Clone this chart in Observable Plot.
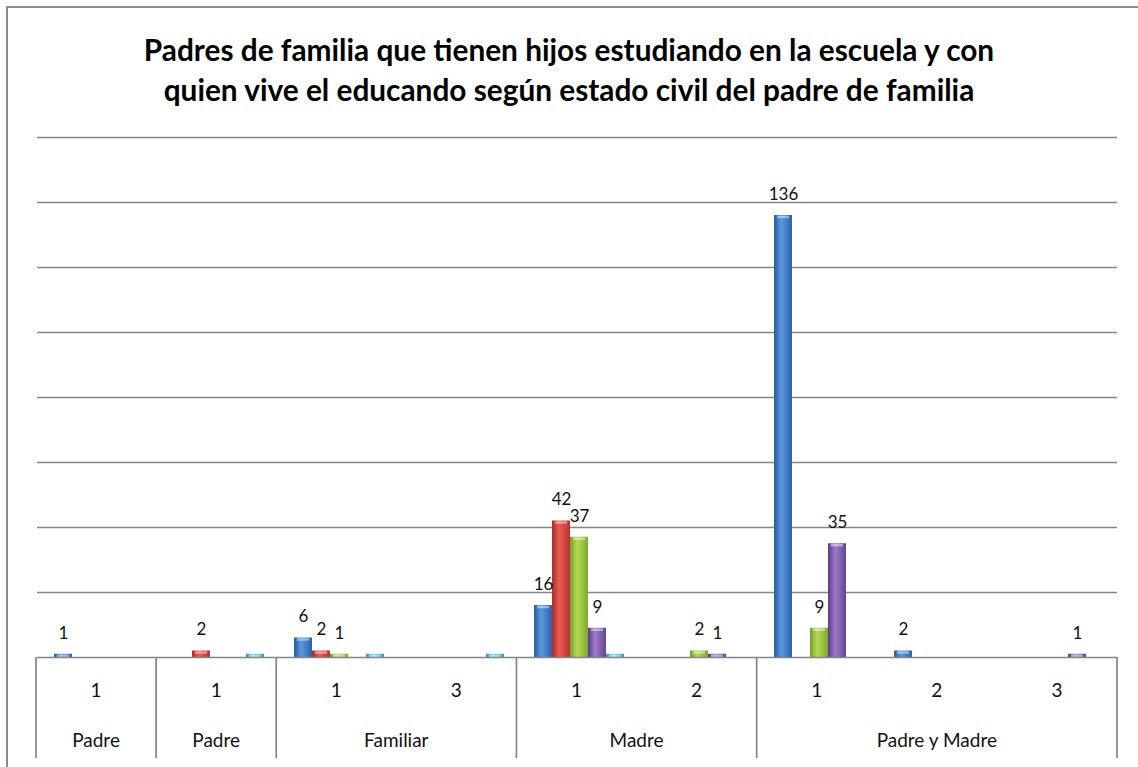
<!DOCTYPE html>
<html><head><meta charset="utf-8">
<script src="https://cdn.jsdelivr.net/npm/d3@7"></script>
<script src="https://cdn.jsdelivr.net/npm/@observablehq/plot@0.6"></script>
<style>
body{margin:0;background:#fff;}
#wrap{position:relative;width:1138px;height:767px;overflow:hidden;font-family:Lato,"Open Sans",sans-serif;}
#frame{position:absolute;left:6px;top:6px;width:1200px;height:800px;border-left:2px solid #8c8c8c;border-top:2px solid #8c8c8c;}
#title{position:absolute;left:0;width:1138px;top:30px;text-align:center;font-weight:bold;font-size:29.8px;line-height:40px;color:#000;z-index:2;}
#chart{position:absolute;left:0;top:0;}
</style></head><body>
<div id="wrap"><div id="frame"></div>
<div id="title">Padres de familia que tienen hijos estudiando en la escuela y con<br>quien vive el educando según estado civil del padre de familia</div>
<div id="chart"></div></div>
<script>
// Multi-level category axis
const groupLabels = ["Padre","Padre","Familiar","Familiar","Madre","Madre","Padre y Madre","Padre y Madre","Padre y Madre"];
const subLabels = ["1","1","1","3","1","2","1","2","3"];
const groupIds = [0,1,2,2,3,3,4,4,4];
// Series (blue, red, green, purple, cyan)
const seriesNames = ["S1","S2","S3","S4","S5"];
const s1Blue   = [1,0,6,0,16,0,136,2,0];
const s2Red    = [0,2,2,0,42,0,0,0,0];
const s3Green  = [0,0,1,0,37,2,9,0,0];
const s4Purple = [0,0,0,0,9,1,35,0,1];
const s5Cyan   = [0,1,1,1,1,0,0,0,0];
const seriesValues = [s1Blue, s2Red, s3Green, s4Purple, s5Cyan];
const labeledSeries = ["S1","S2","S3","S4"];
const gridTicks = [20,40,60,80,100,120,140,160];

const cats = subLabels.map((_, i) => String(i));
const rows = [];
seriesValues.forEach((vals, s) => vals.forEach((v, i) => {
  if (v > 0) rows.push({cat: cats[i], series: seriesNames[s], value: v});
}));

const grads = [
  ["#2a5aa0", "#5a98de", "#2c62ab"],
  ["#a52e2a", "#ec5a52", "#b6322d"],
  ["#73a02a", "#b7da58", "#7eaa2e"],
  ["#5a3c86", "#9e7bcb", "#634393"],
  ["#2a98b4", "#74d6ec", "#30a2be"]
];

const chart = Plot.plot({
  width: 1138, height: 767,
  marginTop: 137, marginBottom: 110, marginLeft: 36, marginRight: 21,
  fx: {domain: cats, padding: 0, axis: null},
  x: {domain: seriesNames, paddingInner: 0, paddingOuter: 0.66, align: 0.56, axis: null},
  y: {domain: [0, 160], axis: null},
  color: {domain: seriesNames, range: seriesNames.map((s, i) => `url(#grad${i})`)},
  style: {fontFamily: "Lato, 'Open Sans', sans-serif", background: "transparent"},
  marks: [
    Plot.ruleY(gridTicks, {stroke: "#858585", strokeWidth: 1.7}),
    Plot.barY(rows, {fx: "cat", x: "series", y: "value", fill: "series"}),
    Plot.tickY(rows, {fx: "cat", x: "series", y: "value", stroke: "rgba(255,255,255,0.45)", strokeWidth: 2.5, dy: 1.5, insetLeft: 3, insetRight: 3}),
    Plot.text(rows.filter(d => labeledSeries.includes(d.series)), {fx: "cat", x: "series", y: "value", text: d => String(d.value), dy: -21, fontSize: 17, fill: "#111"}),
    Plot.ruleY([0], {stroke: "#858585", strokeWidth: 1.7})
  ]
});
document.getElementById("chart").appendChild(chart);

// gradients
const svg = d3.select(chart);
const defs = svg.insert("defs", ":first-child");
grads.forEach((g, i) => {
  const lg = defs.append("linearGradient").attr("id", `grad${i}`).attr("x1", "0").attr("x2", "1").attr("y1", "0").attr("y2", "0");
  lg.append("stop").attr("offset", "0%").attr("stop-color", g[0]);
  lg.append("stop").attr("offset", "40%").attr("stop-color", g[1]);
  lg.append("stop").attr("offset", "100%").attr("stop-color", g[2]);
});

// multi-level axis table from the fx scale
const fx = chart.scale("fx");
const yS = chart.scale("y");
const n = cats.length;
const r0 = fx.range[0], r1 = fx.range[1];
const bw = (r1 - r0) / n;
const left = i => r0 + i * bw;
const y0 = yS.apply ? yS.apply(0) : 657;
const g = svg.append("g").attr("stroke", "#858585").attr("stroke-width", 1.7);
const tbl = svg.append("g").attr("font-family", "Lato, 'Open Sans', sans-serif").attr("font-size", 19).attr("fill", "#111").attr("text-anchor", "middle");
// vertical separators at group boundaries
const bounds = [0];
for (let i = 1; i < n; i++) if (groupIds[i] !== groupIds[i - 1]) bounds.push(i);
bounds.push(n);
bounds.forEach(b => g.append("line").attr("x1", left(b)).attr("x2", left(b)).attr("y1", y0).attr("y2", y0 + 101));
subLabels.forEach((t, i) => tbl.append("text").attr("x", left(i) + bw / 2).attr("y", y0 + 33).attr("dy", "0.35em").text(t));
for (let k = 0; k < bounds.length - 1; k++) {
  const a = bounds[k], b = bounds[k + 1];
  tbl.append("text").attr("x", (left(a) + left(b)) / 2).attr("y", y0 + 83).attr("dy", "0.35em").text(groupLabels[a]);
}
</script>
</body></html>
